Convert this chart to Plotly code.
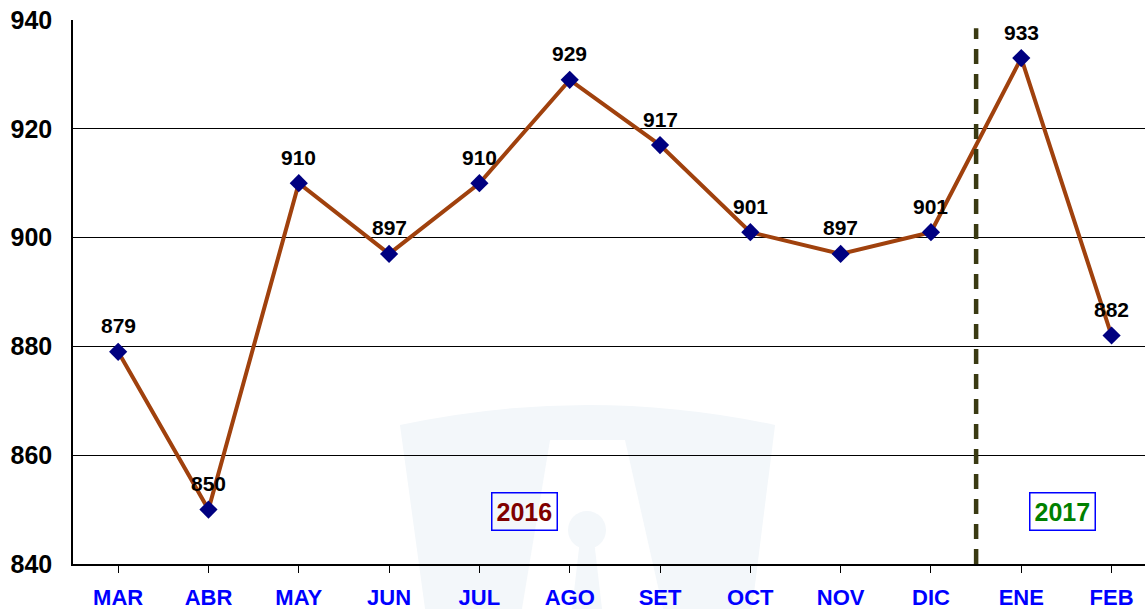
import plotly.graph_objects as go

months = ["MAR", "ABR", "MAY", "JUN", "JUL", "AGO", "SET", "OCT", "NOV", "DIC", "ENE", "FEB"]
values = [879, 850, 910, 897, 910, 929, 917, 901, 897, 901, 933, 882]
year_labels = ["2016", "2017"]
year_positions = [4.5, 10.46]
year_colors = ["#800000", "#008000"]
y_ticks = [840, 860, 880, 900, 920, 940]

W, H = 1145, 609
L, R, T, B = 73, 0, 20, 45
PX0, PX1, PY0, PY1 = L, W - R, T, H - B
FONT = "Liberation Sans, Arial"


def pp(x, y):
    """Pixel -> paper coords string for path shapes."""
    return f"{(x - PX0) / (PX1 - PX0):.4f},{(PY1 - y) / (PY1 - PY0):.4f}"


def px(x):
    return (x - PX0) / (PX1 - PX0)


def py(y):
    return (PY1 - y) / (PY1 - PY0)


fig = go.Figure()

fig.add_trace(go.Scatter(
    x=list(range(len(months))),
    y=values,
    mode="lines+markers",
    line=dict(color="#A0410D", width=4),
    marker=dict(symbol="diamond", size=14, color="#000080"),
    hoverinfo="skip",
    cliponaxis=False,
))

# value labels above each point
for i, v in enumerate(values):
    fig.add_annotation(
        x=i, y=v, text=str(v), showarrow=False, yshift=26,
        font=dict(family=FONT, size=21, color="black", weight="bold"),
    )

# faint watermark logo behind the plot
wm = "#f3f7fa"
fig.add_shape(type="path", xref="paper", yref="paper", layer="below",
              path=f"M {pp(400, 425)} Q {pp(587, 385)} {pp(775, 425)} L {pp(752, 609)} L {pp(425, 609)} Z",
              fillcolor=wm, line=dict(width=0))
fig.add_shape(type="path", xref="paper", yref="paper", layer="below",
              path=f"M {pp(550, 440)} L {pp(625, 440)} L {pp(663, 609)} L {pp(522, 609)} Z",
              fillcolor="white", line=dict(width=0))
fig.add_shape(type="circle", xref="paper", yref="paper", layer="below",
              x0=px(568), x1=px(606), y0=py(549), y1=py(511),
              fillcolor=wm, line=dict(width=0))
fig.add_shape(type="path", xref="paper", yref="paper", layer="below",
              path=f"M {pp(580, 540)} L {pp(594, 540)} L {pp(602, 609)} L {pp(572, 609)} Z",
              fillcolor=wm, line=dict(width=0))

# dashed separator between years
fig.add_shape(type="line", x0=9.5, x1=9.5, y0=840, y1=938.5,
              line=dict(color="#3A3A12", width=4.5, dash="15px,10px"))

for label, pos, color in zip(year_labels, year_positions, year_colors):
    fig.add_annotation(
        x=pos, y=849.6, text=label, showarrow=False,
        font=dict(family=FONT, size=25, color=color, weight="bold"),
        bordercolor="#0000FF", borderwidth=1.5, borderpad=4, bgcolor="rgba(255,255,255,0)",
    )

fig.update_layout(
    width=W, height=H,
    margin=dict(l=L, r=R, t=T, b=B),
    paper_bgcolor="white", plot_bgcolor="rgba(0,0,0,0)",
    showlegend=False,
    font=dict(family=FONT),
    xaxis=dict(
        range=[-0.5, 11.37],
        tickmode="array", tickvals=list(range(len(months))), ticktext=months,
        tickson="boundaries", ticks="outside", ticklen=7, tickcolor="black",
        tickfont=dict(size=22, color="#0000FF", weight="bold"),
        ticklabelstandoff=6,
        showgrid=False, showline=True, linecolor="black", linewidth=1.5,
        zeroline=False, fixedrange=True, automargin=False,
    ),
    yaxis=dict(
        range=[840, 940],
        tickvals=y_ticks,
        tickfont=dict(size=25, color="black", weight="bold"),
        ticklabelstandoff=14,
        showgrid=True, gridcolor="black", gridwidth=1,
        showline=True, linecolor="black", linewidth=1.5,
        zeroline=False, ticks="", fixedrange=True, automargin=False,
    ),
)

# drop the default page margin so the figure sits at the window's top-left corner
fig.write_html(
    "out.html",
    config={"displayModeBar": False},
    post_script="document.body.style.margin='0';document.body.style.overflow='hidden';",
)
